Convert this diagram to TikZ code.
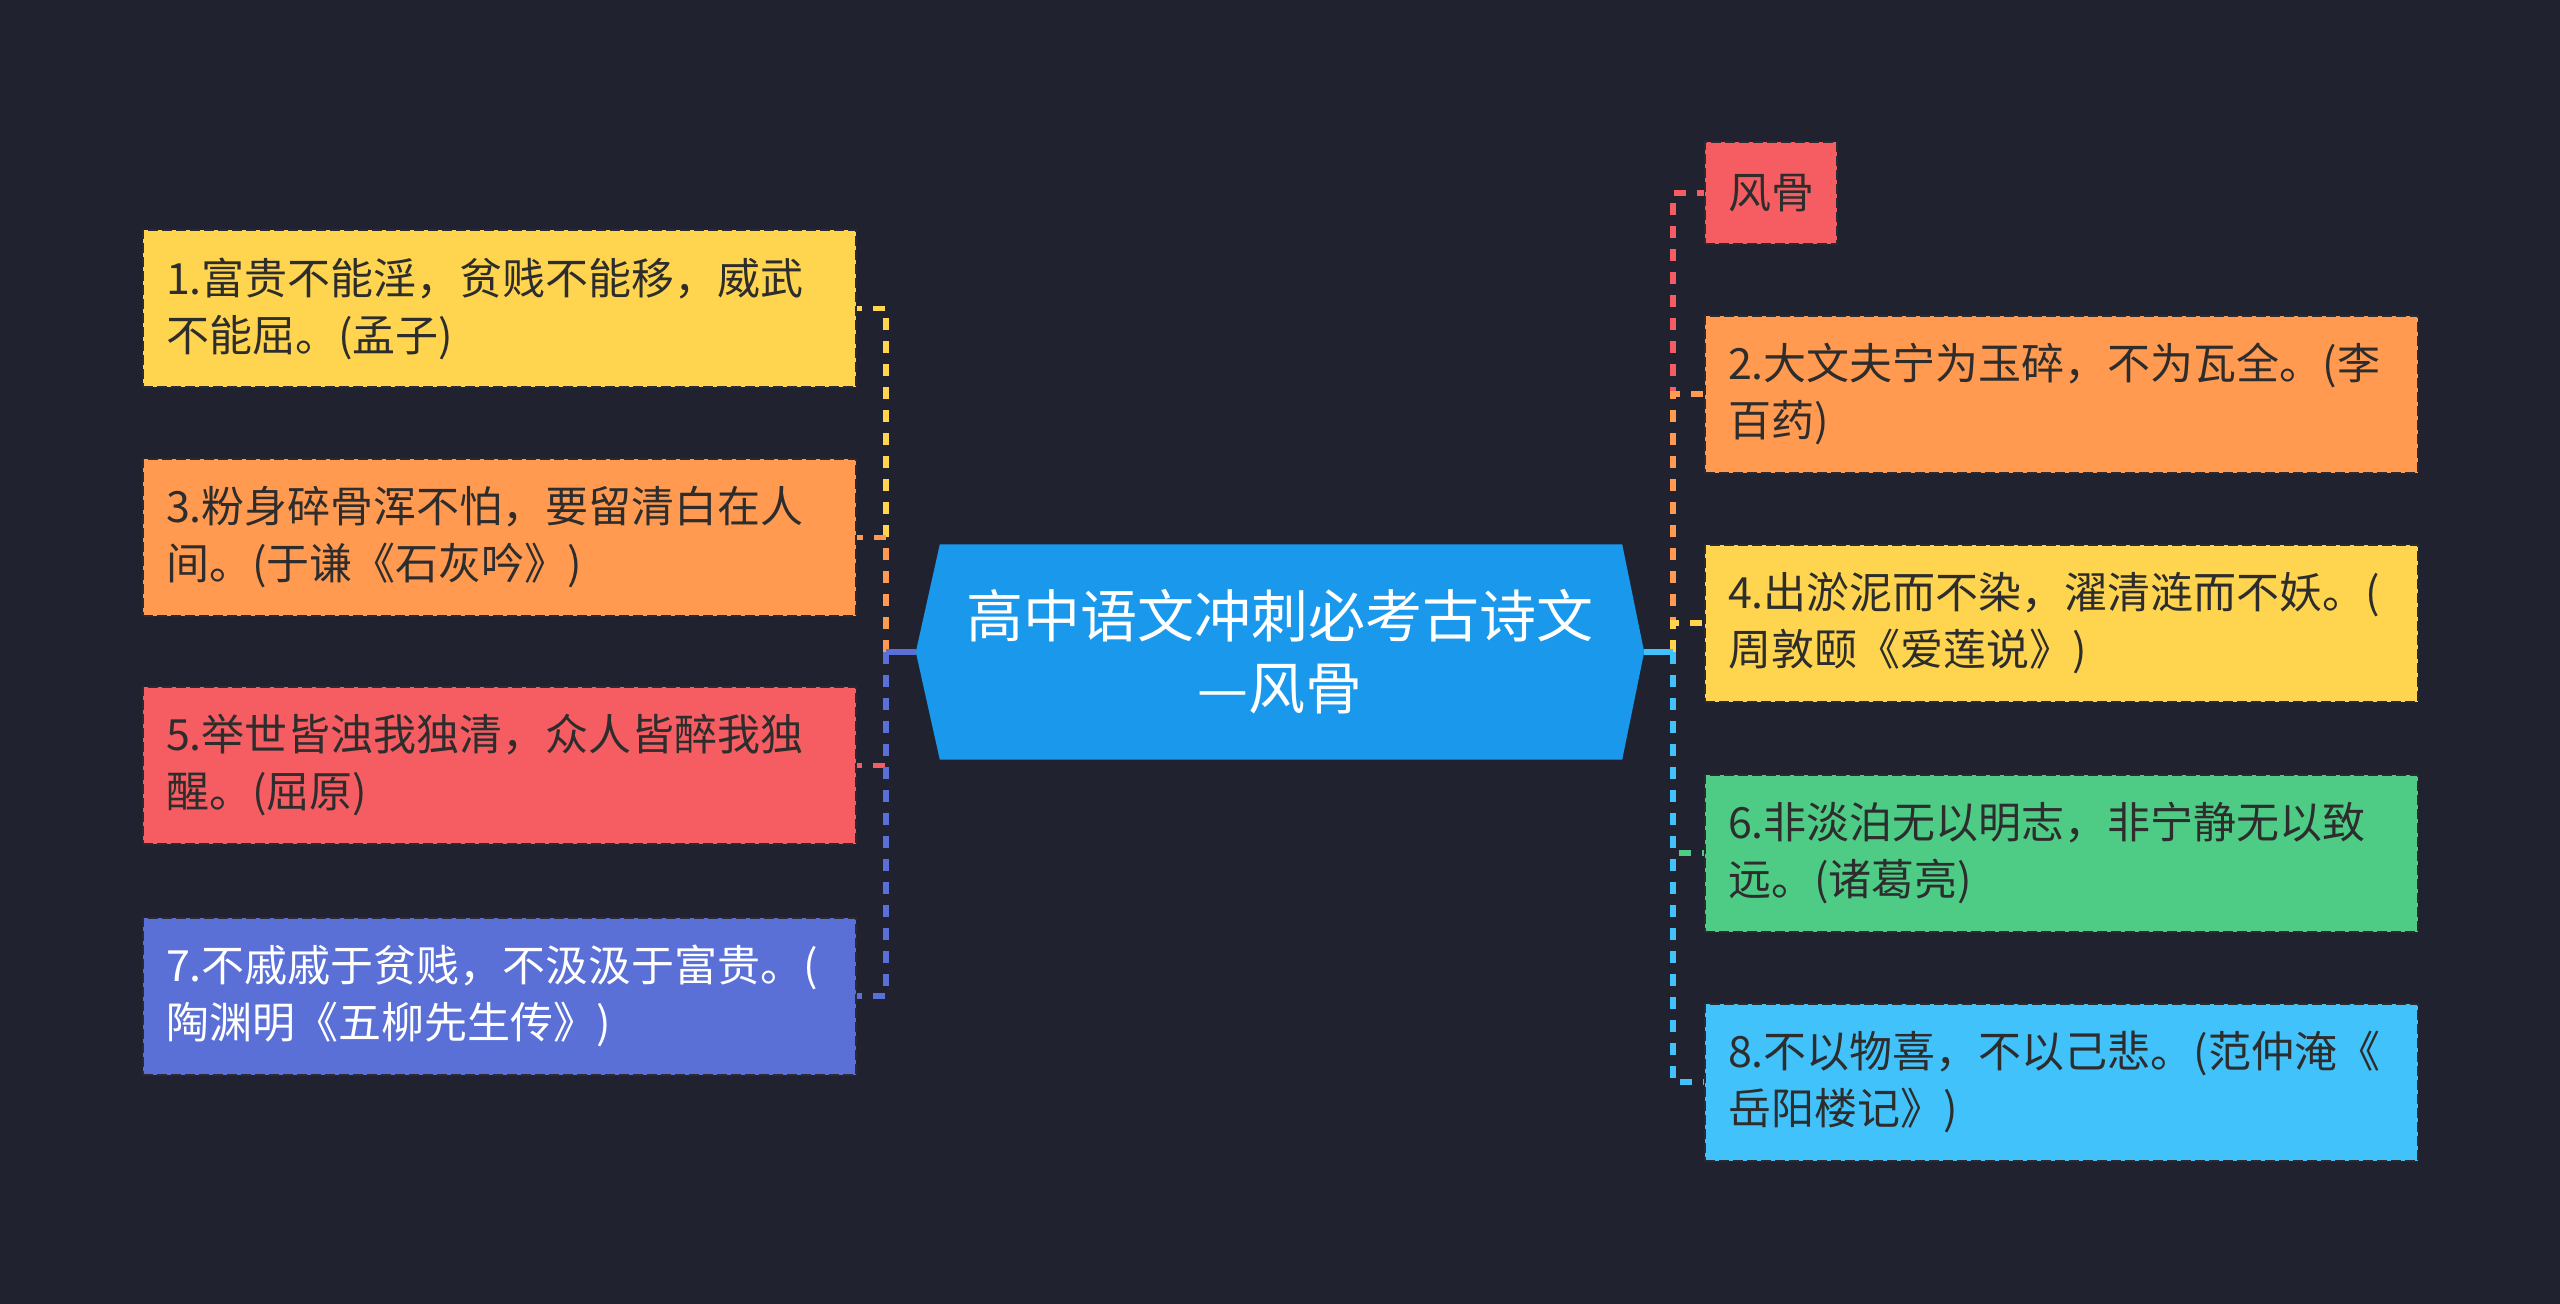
\documentclass[tikz,border=0pt]{standalone}
\usepackage{fontspec}
\setmainfont{Noto Sans CJK SC}
\usetikzlibrary{calc}
\definecolor{bg}{HTML}{20232F}
\definecolor{cyel}{HTML}{FFD54F}
\definecolor{cora}{HTML}{FF9A50}
\definecolor{cred}{HTML}{F55D62}
\definecolor{cblu}{HTML}{5A70D6}
\definecolor{cgrn}{HTML}{4ECB85}
\definecolor{clbl}{HTML}{42C2FB}
\definecolor{ccen}{HTML}{1A98EC}
\definecolor{txt}{HTML}{2D2D2D}
\definecolor{bdr}{HTML}{2A2A30}
\tikzset{
  leafbase/.style={draw=bdr, line width=2pt, dash pattern=on 10pt off 4pt,
    inner xsep=23pt, inner ysep=0pt, align=left, anchor=west, text=txt,
    font=\fontsize{43}{57}\selectfont},
  leafwide/.style={leafbase, text width=667pt, minimum height=157pt},
  conn/.style={line width=5.5pt, dash pattern=on 12pt off 11pt},
  stub/.style={line width=5.5pt},
  hexbox/.style={minimum width=728pt, minimum height=215pt, inner sep=0pt},
  centertext/.style={text=white, align=center, font=\fontsize{57}{72}\selectfont}
}
\begin{document}
\begin{tikzpicture}[x=1pt,y=-1pt]
\fill[bg] (0,0) rectangle (2560,1304);
\useasboundingbox (0,0) rectangle (2560,1304);

% center
\node[hexbox] (c) at (1280,652) {};
\fill[ccen] (c.west) -- ($(c.north west)+(24,0)$) -- ($(c.north east)+(-22,0)$) -- (c.east)
  -- ($(c.south east)+(-22,0)$) -- ($(c.south west)+(24,0)$) -- cycle;
\node[centertext] (ct) at (c.center) {高中语文冲刺必考古诗文\\—风骨};

% left leaves
\node[leafwide, fill=cyel] (n1) at (142,308.5) {1.富贵不能淫，贫贱不能移，威武\\不能屈。(孟子)};
\node[leafwide, fill=cora] (n3) at (142,537.5) {3.粉身碎骨浑不怕，要留清白在人\\间。(于谦《石灰吟》)};
\node[leafwide, fill=cred] (n5) at (142,765.5) {5.举世皆浊我独清，众人皆醉我独\\醒。(屈原)};
\node[leafwide, fill=cblu, text=white] (n7) at (142,996) {7.不戚戚于贫贱，不汲汲于富贵。(\\陶渊明《五柳先生传》)};

% right leaves
\node[leafbase, fill=cred, minimum height=102pt] (n0) at (1704,193) {风骨};
\node[leafwide, fill=cora] (n2) at (1704,394) {2.大文夫宁为玉碎，不为瓦全。(李\\百药)};
\node[leafwide, fill=cyel] (n4) at (1704,623) {4.出淤泥而不染，濯清涟而不妖。(\\周敦颐《爱莲说》)};
\node[leafwide, fill=cgrn] (n6) at (1704,853) {6.非淡泊无以明志，非宁静无以致\\远。(诸葛亮)};
\node[leafwide, fill=clbl] (n8) at (1704,1082) {8.不以物喜，不以己悲。(范仲淹《\\岳阳楼记》)};

% connectors left
\coordinate (lt) at (886,652);
\draw[conn, cyel] (lt) |- (n1.east);
\draw[conn, cora] (lt) |- (n3.east);
\draw[conn, cred] (lt) |- (n5.east);
\draw[conn, cblu] (lt) |- (n7.east);
\draw[stub, cblu] (c.west) -- (lt);

% connectors right
\coordinate (rt) at (1673,652);
\draw[conn, cred] (rt) |- (n0.west);
\draw[conn, cora] (rt) |- (n2.west);
\draw[conn, cyel] (rt) |- (n4.west);
\draw[conn, cgrn] (rt) |- (n6.west);
\draw[conn, clbl] (rt) |- (n8.west);
\draw[stub, clbl] (c.east) -- (rt);
\end{tikzpicture}
\end{document}
